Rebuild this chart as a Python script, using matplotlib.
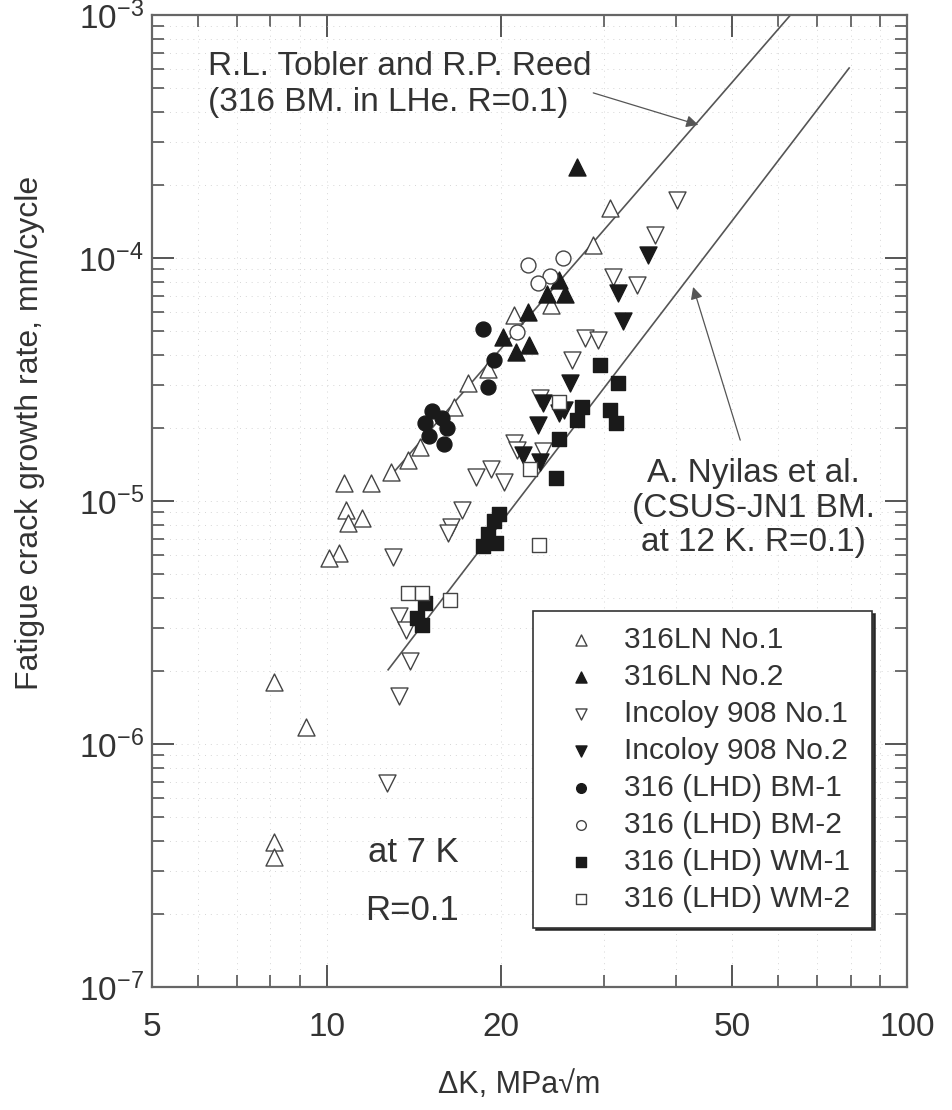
import matplotlib
matplotlib.use("Agg")
import matplotlib.pyplot as plt
from matplotlib.ticker import FixedLocator, NullFormatter, LogLocator

# data (dK in MPa*sqrt(m), rate in mm/cycle)
ln1_dk = [30.8, 28.8, 24.4, 21.0, 19.0, 17.5, 16.6, 14.5, 13.8, 12.9, 11.9, 10.7,
          10.8, 11.5, 10.9, 10.5, 10.1, 8.1, 9.2, 8.1, 8.1]
ln1_rate = [1.61e-4, 1.13e-4, 6.4e-5, 5.8e-5, 3.5e-5, 3.06e-5, 2.44e-5, 1.67e-5, 1.47e-5,
            1.32e-5, 1.19e-5, 1.19e-5, 9.2e-6, 8.5e-6, 8.1e-6, 6.1e-6, 5.8e-6, 1.8e-6,
            1.17e-6, 3.95e-7, 3.43e-7]

ln2_dk = [27.0, 25.1, 24.0, 25.7, 22.2, 20.1, 22.3, 21.2]
ln2_rate = [2.37e-4, 8.1e-5, 7.1e-5, 7.1e-5, 6.0e-5, 4.73e-5, 4.4e-5, 4.1e-5]

inc1_dk = [40.2, 36.8, 31.2, 34.3, 27.9, 29.4, 26.5, 23.3, 21.0, 21.3, 23.6, 19.2,
           18.1, 20.2, 17.1, 16.4, 16.2, 13.0, 13.3, 13.7, 13.9, 13.3, 12.7]
inc1_rate = [1.73e-4, 1.24e-4, 8.35e-5, 7.74e-5, 4.69e-5, 4.6e-5, 3.8e-5, 2.65e-5,
             1.73e-5, 1.62e-5, 1.6e-5, 1.35e-5, 1.26e-5, 1.2e-5, 9.2e-6, 7.8e-6, 7.4e-6,
             5.9e-6, 3.35e-6, 2.95e-6, 2.2e-6, 1.57e-6, 6.9e-7]

inc2_dk = [35.8, 31.8, 32.4, 26.3, 23.6, 25.6, 23.1, 25.1, 21.8, 23.3]
inc2_rate = [1.03e-4, 7.18e-5, 5.5e-5, 3.06e-5, 2.53e-5, 2.37e-5, 2.06e-5, 2.3e-5,
             1.55e-5, 1.45e-5]

bm1_dk = [18.6, 19.4, 19.0, 15.2, 15.8, 16.1, 15.0, 15.9, 14.8]
bm1_rate = [5.1e-5, 3.8e-5, 2.95e-5, 2.35e-5, 2.2e-5, 2.0e-5, 1.85e-5, 1.72e-5, 2.1e-5]

bm2_dk = [22.2, 25.5, 24.3, 23.1, 21.3]
bm2_rate = [9.4e-5, 1.0e-4, 8.4e-5, 7.9e-5, 4.96e-5]

wm1_dk = [29.6, 31.8, 30.8, 31.5, 27.5, 27.0, 25.1, 24.8, 19.4, 19.0, 19.6, 18.6,
          19.8, 14.8, 14.3, 14.6]
wm1_rate = [3.63e-5, 3.06e-5, 2.37e-5, 2.09e-5, 2.44e-5, 2.16e-5, 1.8e-5, 1.24e-5,
            8.3e-6, 7.3e-6, 6.7e-6, 6.5e-6, 8.8e-6, 3.8e-6, 3.3e-6, 3.1e-6]

wm2_dk = [25.1, 22.4, 23.2, 13.8, 14.6, 16.3]
wm2_rate = [2.55e-5, 1.35e-5, 6.6e-6, 4.18e-6, 4.2e-6, 3.9e-6]

# reference trend lines (end points)
tobler_dk = [13.0, 63.0]
tobler_rate = [1.3e-5, 1.0e-3]
nyilas_dk = [12.76, 79.5]
nyilas_rate = [2.02e-6, 6.05e-4]

x_ticks = [5, 10, 20, 50, 100]
x_minor = [6, 7, 8, 9, 30, 40, 60, 70, 80, 90]

plt.rcParams['font.family'] = ['Liberation Sans', 'DejaVu Sans']
plt.rcParams['mathtext.fontset'] = 'custom'
plt.rcParams['mathtext.rm'] = 'Liberation Sans'
plt.rcParams['mathtext.default'] = 'regular'

dark = '#1a1a1a'
edge = '#444444'
txt = '#333333'

fig = plt.figure(figsize=(9.53, 11.1), dpi=100)
ax = fig.add_axes([0.1595, 0.1108, 0.7922, 0.8757])

ax.plot(tobler_dk, tobler_rate, color='#555555', lw=1.2, zorder=2)
ax.plot(nyilas_dk, nyilas_rate, color='#555555', lw=1.2, zorder=2)

series = [
    ("316LN No.1", ln1_dk, ln1_rate, "^", False, 150),
    ("316LN No.2", ln2_dk, ln2_rate, "^", True, 150),
    ("Incoloy 908 No.1", inc1_dk, inc1_rate, "v", False, 150),
    ("Incoloy 908 No.2", inc2_dk, inc2_rate, "v", True, 150),
    ("316 (LHD) BM-1", bm1_dk, bm1_rate, "o", True, 115),
    ("316 (LHD) BM-2", bm2_dk, bm2_rate, "o", False, 115),
    ("316 (LHD) WM-1", wm1_dk, wm1_rate, "s", True, 100),
    ("316 (LHD) WM-2", wm2_dk, wm2_rate, "s", False, 100),
]
for label, dk, rate, marker, filled, size in series:
    ax.scatter(dk, rate, marker=marker, s=size,
               facecolors=dark if filled else 'white',
               edgecolors=dark if filled else edge,
               linewidths=1.0, label=label, zorder=3)

ax.set_xscale('log')
ax.set_yscale('log')
ax.set_xlim(5, 100)
ax.set_ylim(1e-7, 1e-3)

ax.set_xticks(x_ticks, labels=[str(v) for v in x_ticks])
ax.xaxis.set_minor_locator(FixedLocator(x_minor))
ax.xaxis.set_minor_formatter(NullFormatter())
ax.yaxis.set_major_locator(LogLocator(base=10, numticks=10))
ax.yaxis.set_minor_locator(LogLocator(base=10, subs=range(2, 10), numticks=20))
ax.yaxis.set_minor_formatter(NullFormatter())

ax.tick_params(which='both', direction='in', top=True, right=True,
               colors='#555555', labelcolor=txt)
ax.tick_params(which='major', length=16, width=1.4, labelsize=24)
ax.tick_params(which='minor', length=8.5, width=1.2)
ax.tick_params(axis='x', which='major', pad=18)
ax.tick_params(axis='y', which='major', pad=6)

ax.grid(True, which='both', linestyle=(0, (1, 5)), color='#d6d6d6', lw=0.7)
for s in ax.spines.values():
    s.set_color('#666666')
    s.set_linewidth(1.6)

ax.set_ylabel('Fatigue crack growth rate, mm/cycle', fontsize=23, color=txt)
ax.yaxis.set_label_coords(-0.142, 0.57)
ax.set_xlabel('ΔK, MPa√m', fontsize=22, color=txt)
ax.xaxis.set_label_coords(0.487, -0.085)

ax.text(0.074, 0.938, 'R.L. Tobler and R.P. Reed', transform=ax.transAxes,
        fontsize=24, color=txt, va='baseline')
ax.text(0.074, 0.901, '(316 BM. in LHe. R=0.1)', transform=ax.transAxes,
        fontsize=24, color=txt, va='baseline')

ax.text(0.796, 0.5195, 'A. Nyilas et al.', transform=ax.transAxes,
        fontsize=24, color=txt, va='baseline', ha='center')
ax.text(0.796, 0.4835, '(CSUS-JN1 BM.', transform=ax.transAxes,
        fontsize=24, color=txt, va='baseline', ha='center')
ax.text(0.796, 0.4486, 'at 12 K. R=0.1)', transform=ax.transAxes,
        fontsize=24, color=txt, va='baseline', ha='center')

ax.text(0.346, 0.138, 'at 7 K', transform=ax.transAxes, fontsize=25,
        color=txt, va='center', ha='center')
ax.text(0.345, 0.079, 'R=0.1', transform=ax.transAxes, fontsize=25,
        color=txt, va='center', ha='center')

arrow = dict(arrowstyle='-|>', color='#555555', lw=0.9, mutation_scale=18,
             shrinkA=0, shrinkB=0)
ax.annotate('', xy=(43.7, 3.53e-4), xytext=(28.8, 4.78e-4), arrowprops=arrow)
ax.annotate('', xy=(42.8, 7.6e-5), xytext=(51.6, 1.78e-5), arrowprops=arrow)

leg = ax.legend(loc='lower left', bbox_to_anchor=(0.505, 0.061, 0.449, 0.325),
                mode='expand', fontsize=21.5, markerscale=0.65, frameon=True,
                fancybox=False, shadow={'color': '#222222', 'alpha': 0.9},
                edgecolor='#333333', framealpha=1, labelspacing=0.3,
                handlelength=2.2, handletextpad=0.35, borderpad=0.5,
                borderaxespad=0)
leg.get_frame().set_linewidth(1.2)
for t in leg.get_texts():
    t.set_color(txt)

fig.savefig('out.png', dpi=100)
